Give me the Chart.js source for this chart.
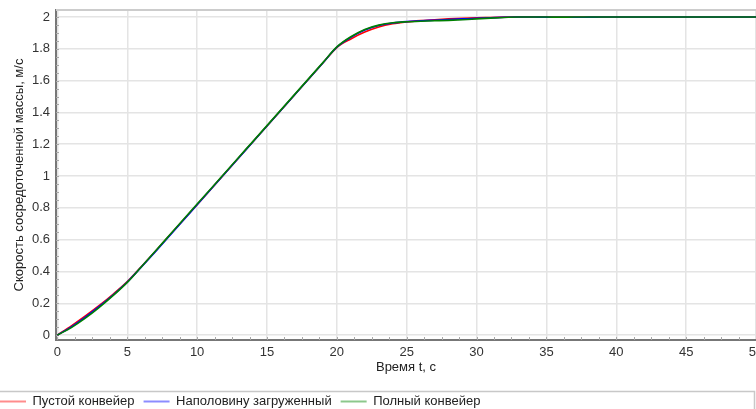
<!DOCTYPE html>
<html>
<head>
<meta charset="utf-8">
<script src="https://cdn.jsdelivr.net/npm/chart.js@4/dist/chart.umd.min.js"></script>
<style>
  html, body { margin: 0; padding: 0; background: #fff; overflow: hidden; width: 756px; height: 409px; }
  #wrap { position: absolute; left: -9px; top: 0; width: 780px; height: 418px; }
</style>
</head>
<body>
<div id="wrap"><canvas id="c" width="780" height="418"></canvas></div>
<script>
// Time, s
const timeS = [0,1,2,3,4,5,6,7,8,9,10,11,12,13,14,15,16,17,18,19,20,
  21,22,23,24,25,26,27,28,29,30,31,32,33,34,35,36,37,38,39,40,
  41,42,43,44,45,46,47,48,49,50];

// Speed of the lumped mass, m/s
const emptyBelt = [0,0.058,0.120,0.186,0.258,0.336,0.430,0.526,0.624,0.722,0.820,0.919,1.018,1.117,1.216,1.315,1.414,1.513,1.612,1.711,1.808,
  1.862,1.905,1.937,1.957,1.969,1.977,1.983,1.988,1.992,1.995,1.997,1.999,2.001,2.001,2.000,2.000,2.000,2.000,2.000,2.000,
  2.000,2.000,2.000,2.000,2.000,2.000,2.000,2.000,2.000,2.000];
const halfLoaded = [0,0.052,0.113,0.180,0.253,0.333,0.427,0.523,0.621,0.720,0.819,0.918,1.017,1.116,1.216,1.315,1.414,1.513,1.612,1.711,1.810,
  1.872,1.918,1.946,1.962,1.971,1.976,1.980,1.984,1.988,1.992,1.995,1.998,2.000,2.000,1.999,1.998,1.998,1.999,2.000,2.000,
  2.000,2.000,2.000,2.000,2.000,2.000,2.000,2.000,2.000,2.000];
const fullBelt = [0,0.047,0.106,0.174,0.249,0.331,0.428,0.527,0.626,0.725,0.824,0.922,1.021,1.120,1.218,1.317,1.416,1.515,1.614,1.713,1.812,
  1.876,1.922,1.949,1.964,1.970,1.973,1.976,1.979,1.983,1.988,1.993,1.997,2.000,2.000,2.000,1.999,2.000,2.000,2.000,2.000,
  2.000,2.000,2.000,2.000,2.000,2.000,2.000,2.000,2.000,2.000];

const seriesNames = ['Пустой конвейер', 'Наполовину загруженный', 'Полный конвейер'];
const xTicks = [0,5,10,15,20,25,30,35,40,45,50];
const yTicks = [0,0.2,0.4,0.6,0.8,1,1.2,1.4,1.6,1.8,2];

const FONT = 'Liberation Sans, Arial, sans-serif';
const toPoints = vals => timeS.map((t, i) => ({ x: t, y: vals[i] }));

const lineColors = ['#ff0000', '#0000ff', '#008000'];
const legendColors = ['#ff8c8c', '#8c8cff', '#8cc88c'];

// Frame, minor ticks and legend box
const decorations = {
  id: 'decorations',
  beforeDatasetsDraw(chart) {
    const { ctx, chartArea: a, scales: { x, y } } = chart;
    ctx.save();
    ctx.strokeStyle = '#a8a8a8';
    ctx.lineWidth = 1;
    ctx.beginPath();
    for (let v = 0; v <= 50; v += 1.25) {
      const px = Math.round(x.getPixelForValue(v)) + 0.5;
      ctx.moveTo(px, a.bottom);
      ctx.lineTo(px, a.bottom - 3);
    }
    for (let v = 0; v <= 2.0001; v += 0.05) {
      const py = Math.round(y.getPixelForValue(v)) + 0.5;
      ctx.moveTo(a.left, py);
      ctx.lineTo(a.left + 3, py);
    }
    ctx.stroke();
    ctx.restore();
  },
  afterDraw(chart) {
    const { ctx, chartArea: a } = chart;
    ctx.save();
    ctx.strokeStyle = '#cccccc';
    ctx.lineWidth = 2;
    ctx.beginPath();
    ctx.moveTo(a.left, a.top);
    ctx.lineTo(chart.width, a.top);
    ctx.stroke();
    // legend frame
    ctx.lineWidth = 1.5;
    ctx.strokeStyle = '#c8c8c8';
    ctx.beginPath();
    ctx.moveTo(0, 391.5);
    ctx.lineTo(763.5, 391.5);
    ctx.lineTo(763.5, chart.height);
    ctx.stroke();
    ctx.restore();
  }
};

new Chart(document.getElementById('c'), {
  type: 'line',
  data: {
    datasets: [emptyBelt, halfLoaded, fullBelt].map((vals, i) => ({
      label: seriesNames[i],
      data: toPoints(vals),
      borderColor: lineColors[i],
      backgroundColor: lineColors[i],
      borderWidth: 1.6,
      pointRadius: 0,
      cubicInterpolationMode: 'monotone',
      fill: false,
      order: 3 - i
    }))
  },
  options: {
    responsive: false,
    animation: false,
    layout: { padding: { left: 0, right: 15, top: 10, bottom: 0 } },
    plugins: {
      tooltip: { enabled: false },
      legend: {
        position: 'bottom',
        align: 'start',
        labels: {
          usePointStyle: true,
          pointStyle: 'line',
          pointStyleWidth: 26,
          padding: 9,
          color: '#222',
          font: { family: FONT, size: 13 },
          generateLabels(chart) {
            return chart.data.datasets.map((ds, i) => ({
              text: ds.label,
              strokeStyle: legendColors[i],
              fillStyle: legendColors[i],
              lineWidth: 2,
              pointStyle: 'line',
              datasetIndex: i,
              hidden: false,
              fontColor: '#222'
            }));
          }
        }
      }
    },
    scales: {
      x: {
        type: 'linear',
        min: -0.1,
        max: 50,
        afterBuildTicks: s => { s.ticks = xTicks.map(v => ({ value: v })); },
        afterFit: s => { s.height = 46; },
        grid: { color: '#e4e4e4', lineWidth: 1.5, drawTicks: false },
        border: { color: '#777777', width: 2 },
        ticks: { padding: 5, color: '#333', font: { family: FONT, size: 13 }, maxRotation: 0, autoSkip: false },
        title: { display: true, text: 'Время t, с', color: '#222', font: { family: FONT, size: 13 }, padding: { top: 0, bottom: 11 } }
      },
      y: {
        type: 'linear',
        min: -0.031,
        max: 2.044,
        afterBuildTicks: s => { s.ticks = yTicks.map(v => ({ value: v })); },
        afterFit: s => { s.width = 65; s.paddingTop = 0; s.paddingBottom = 0; },
        grid: { color: '#e4e4e4', lineWidth: 1.5, drawTicks: false },
        border: { color: '#777777', width: 2 },
        ticks: { padding: 6, color: '#333', font: { family: FONT, size: 13 }, autoSkip: false,
                 callback: v => String(Math.round(v * 10) / 10) },
        title: { display: true, text: 'Скорость сосредоточенной массы, м/с', color: '#222', font: { family: FONT, size: 13 }, padding: { top: 21, bottom: 0 } }
      }
    }
  },
  plugins: [decorations]
});
</script>
</body>
</html>
